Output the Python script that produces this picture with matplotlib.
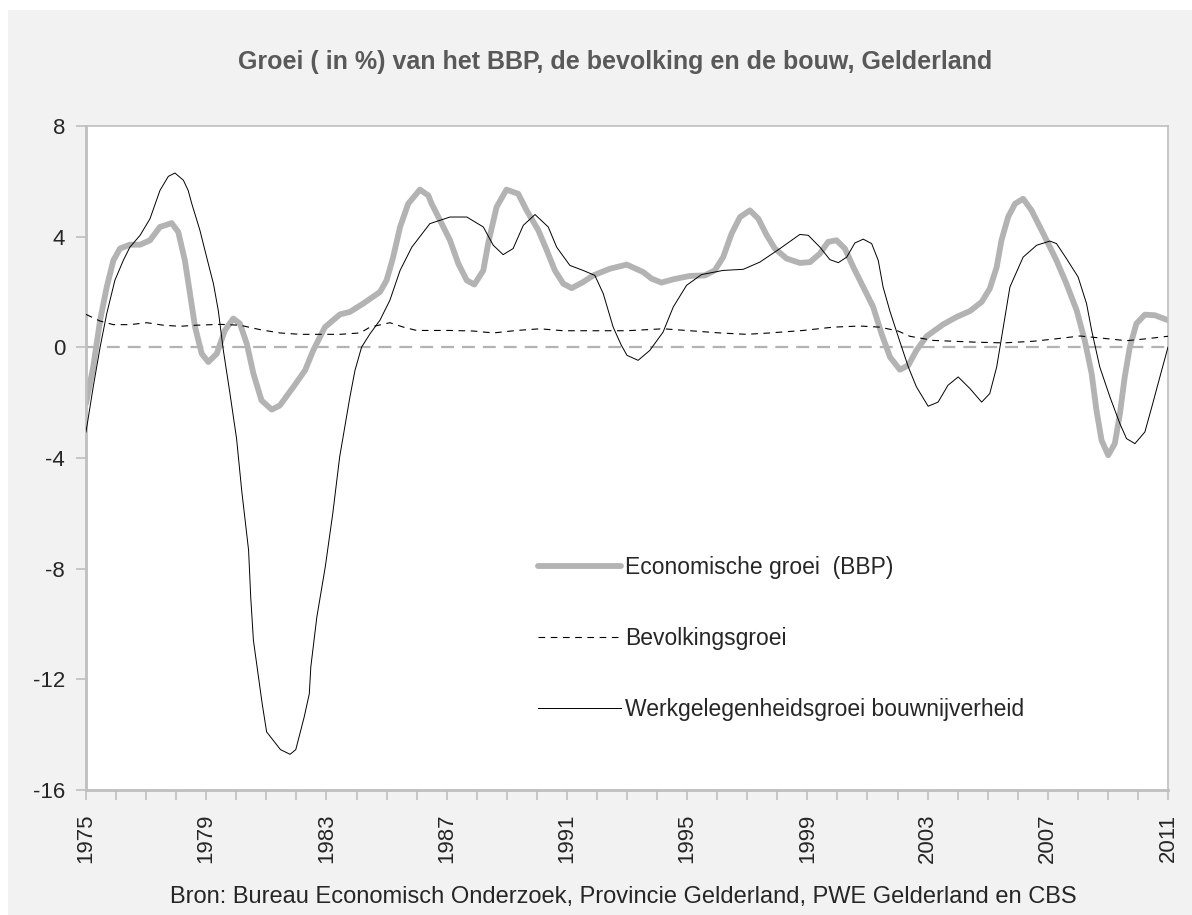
import matplotlib
matplotlib.use("Agg")
import matplotlib.pyplot as plt
from matplotlib.patches import Rectangle

plt.rcParams['font.family'] = ['Liberation Sans', 'DejaVu Sans']

# ---------------- data ----------------
bbp_years = [1975.0, 1975.24, 1975.47, 1975.69, 1975.91, 1976.13, 1976.46, 1976.8, 1977.13, 1977.46,
             1977.85, 1978.07, 1978.29, 1978.46, 1978.63, 1978.85, 1979.07, 1979.35, 1979.62, 1979.9,
             1980.12, 1980.35, 1980.57, 1980.84, 1981.18, 1981.45, 1981.9, 1982.29, 1982.56, 1982.95,
             1983.45, 1983.78, 1984.22, 1984.78, 1985.0, 1985.22, 1985.45, 1985.72, 1986.11, 1986.39,
             1986.5, 1986.78, 1987.11, 1987.39, 1987.67, 1987.92, 1988.22, 1988.38, 1988.66, 1988.99,
             1989.38, 1989.66, 1990.05, 1990.33, 1990.6, 1990.88, 1991.16, 1991.54, 1991.88, 1992.43,
             1992.99, 1993.54, 1993.82, 1994.15, 1994.54, 1995.09, 1995.59, 1995.92, 1996.2, 1996.48,
             1996.76, 1997.09, 1997.37, 1997.65, 1997.92, 1998.31, 1998.75, 1999.09, 1999.42, 1999.69,
             1999.97, 2000.25, 2000.53, 2000.86, 2001.19, 2001.47, 2001.75, 2002.08, 2002.36, 2002.63,
             2002.97, 2003.52, 2003.97, 2004.41, 2004.8, 2005.07, 2005.3, 2005.46, 2005.68, 2005.91,
             2006.18, 2006.46, 2006.85, 2007.29, 2007.62, 2007.96, 2008.23, 2008.46, 2008.62, 2008.79,
             2009.01, 2009.23, 2009.4, 2009.56, 2009.73, 2009.95, 2010.23, 2010.56, 2011.0]
bbp_values = [-2.03, -0.71, 0.98, 2.18, 3.14, 3.57, 3.71, 3.71, 3.87, 4.35,
              4.49, 4.17, 3.14, 1.94, 0.73, -0.23, -0.53, -0.23, 0.61, 1.04,
              0.86, 0.13, -0.95, -1.92, -2.25, -2.10, -1.43, -0.83, -0.11, 0.73,
              1.19, 1.28, 1.58, 2.00, 2.42, 3.26, 4.35, 5.19, 5.70, 5.49,
              5.19, 4.59, 3.87, 3.02, 2.42, 2.27, 2.78, 3.75, 5.07, 5.70,
              5.55, 4.95, 4.23, 3.51, 2.78, 2.30, 2.14, 2.36, 2.60, 2.84,
              2.99, 2.72, 2.48, 2.34, 2.46, 2.58, 2.60, 2.78, 3.26, 4.11,
              4.71, 4.95, 4.65, 4.05, 3.57, 3.21, 3.05, 3.08, 3.39, 3.81,
              3.87, 3.57, 2.90, 2.18, 1.46, 0.49, -0.35, -0.81, -0.65, -0.11,
              0.40, 0.83, 1.10, 1.31, 1.64, 2.12, 2.90, 3.87, 4.71, 5.19,
              5.37, 4.95, 4.11, 3.14, 2.30, 1.34, 0.25, -0.95, -2.28, -3.36,
              -3.90, -3.48, -2.40, -1.07, 0.01, 0.86, 1.18, 1.16, 0.98]

pop_years = [1975.0, 1975.47, 1975.91, 1976.46, 1977.02, 1977.57, 1978.13, 1978.68, 1979.46, 1980.12,
             1980.79, 1981.45, 1982.12, 1982.78, 1983.45, 1984.12, 1984.45, 1985.11, 1985.56, 1986.0,
             1987.11, 1987.88, 1988.55, 1989.33, 1990.1, 1990.88, 1991.99, 1993.0, 1994.2, 1994.98,
             1996.09, 1996.98, 1997.75, 1998.86, 1999.86, 2000.75, 2001.41, 2002.02, 2002.41, 2003.19,
             2004.52, 2005.52, 2006.52, 2007.29, 2008.07, 2008.73, 2009.62, 2010.29, 2011.0]
pop_values = [1.19, 0.95, 0.82, 0.82, 0.89, 0.80, 0.76, 0.80, 0.83, 0.80,
              0.64, 0.52, 0.47, 0.47, 0.47, 0.52, 0.73, 0.89, 0.73, 0.61,
              0.61, 0.59, 0.52, 0.61, 0.67, 0.60, 0.60, 0.60, 0.67, 0.61,
              0.52, 0.47, 0.52, 0.61, 0.73, 0.77, 0.73, 0.59, 0.40, 0.25,
              0.19, 0.16, 0.22, 0.31, 0.41, 0.34, 0.24, 0.31, 0.40]

bouw_years = [1975.0, 1975.24, 1975.47, 1975.69, 1975.96, 1976.24, 1976.46, 1976.8, 1977.13, 1977.46,
              1977.74, 1977.96, 1978.24, 1978.4, 1978.52, 1978.79, 1979.07, 1979.24, 1979.4, 1979.57,
              1979.79, 1980.01, 1980.18, 1980.41, 1980.48, 1980.57, 1980.86, 1981.01, 1981.47, 1981.79,
              1981.98, 1982.26, 1982.43, 1982.48, 1982.68, 1982.96, 1983.21, 1983.44, 1983.78, 1983.95,
              1984.17, 1984.45, 1984.78, 1985.11, 1985.45, 1985.84, 1986.44, 1987.11, 1987.67, 1988.22,
              1988.55, 1988.88, 1989.21, 1989.55, 1989.94, 1990.38, 1990.66, 1991.1, 1991.54, 1991.93,
              1992.21, 1992.54, 1992.8, 1993.0, 1993.37, 1993.76, 1994.2, 1994.54, 1994.98, 1995.48,
              1996.2, 1996.87, 1997.42, 1998.09, 1998.75, 1999.03, 1999.42, 1999.75, 2000.03, 2000.31,
              2000.58, 2000.86, 2001.14, 2001.36, 2001.52, 2001.75, 2002.08, 2002.36, 2002.63, 2003.02,
              2003.35, 2003.68, 2004.02, 2004.41, 2004.8, 2005.07, 2005.3, 2005.5, 2005.74, 2006.18,
              2006.63, 2007.07, 2007.29, 2007.62, 2008.01, 2008.29, 2008.46, 2008.73, 2009.07, 2009.4,
              2009.62, 2009.9, 2010.23, 2010.46, 2010.73, 2011.0]
bouw_values = [-3.06, -1.43, 0.01, 1.22, 2.42, 3.14, 3.62, 4.05, 4.65, 5.67,
               6.18, 6.30, 6.04, 5.67, 5.19, 4.23, 3.02, 2.30, 1.34, -0.11,
               -1.67, -3.30, -5.17, -7.34, -9.02, -10.59, -12.87, -13.90, -14.54, -14.71,
               -14.54, -13.36, -12.52, -11.55, -9.75, -7.94, -6.01, -3.96, -1.80, -0.83,
               0.01, 0.49, 0.98, 1.70, 2.78, 3.62, 4.47, 4.71, 4.71, 4.35,
               3.69, 3.35, 3.57, 4.41, 4.80, 4.35, 3.62, 2.96, 2.78, 2.60,
               1.94, 0.73, 0.10, -0.29, -0.47, -0.11, 0.55, 1.46, 2.24, 2.63,
               2.78, 2.82, 3.08, 3.57, 4.08, 4.05, 3.62, 3.17, 3.06, 3.26,
               3.77, 3.91, 3.75, 3.14, 2.18, 1.30, 0.20, -0.71, -1.43, -2.13,
               -1.98, -1.37, -1.07, -1.49, -1.98, -1.67, -0.71, 0.60, 2.18, 3.26,
               3.69, 3.84, 3.75, 3.21, 2.54, 1.58, 0.61, -0.71, -1.80, -2.76,
               -3.30, -3.48, -3.06, -2.16, -1.07, 0.01]

y_ticks = [8, 4, 0, -4, -8, -12, -16]
x_label_years = [1975, 1979, 1983, 1987, 1991, 1995, 1999, 2003, 2007, 2011]

title = "Groei ( in %) van het BBP, de bevolking en de bouw, Gelderland"
source = "Bron: Bureau Economisch Onderzoek, Provincie Gelderland, PWE Gelderland en CBS"
labels = ["Economische groei  (BBP)", "Bevolkingsgroei", "Werkgelegenheidsgroei bouwnijverheid"]

# ---------------- figure ----------------
W, H = 1192, 915
fig = plt.figure(figsize=(W / 100, H / 100), dpi=100)
fig.patch.set_facecolor('white')
fig.patches.append(Rectangle((8 / W, 0), 1, (H - 10) / H, transform=fig.transFigure,
                             facecolor='#f2f2f2', edgecolor='none', zorder=-10))

ax = fig.add_axes([86 / W, 1 - 790 / H, (1168 - 86) / W, (790 - 126) / H])
ax.set_facecolor('white')

gray = '#b3b3b3'
ax.axhline(0, color=gray, lw=1.6, dashes=(5.8, 3.6), zorder=1)

l1, = ax.plot(bbp_years, bbp_values, color=gray, lw=4.2, solid_joinstyle='round',
              solid_capstyle='round', zorder=2, label=labels[0])
l2, = ax.plot(pop_years, pop_values, color='black', lw=0.8, dashes=(6, 5), zorder=3, label=labels[1])
l3, = ax.plot(bouw_years, bouw_values, color='black', lw=0.7, zorder=4, label=labels[2])

ax.set_xlim(1975, 2011)
ax.set_ylim(-16, 8)
ax.set_yticks(y_ticks)
ax.set_yticklabels([str(v) for v in y_ticks])
ax.set_xticks(range(1975, 2012))
ax.set_xticklabels([str(y) if y in x_label_years else '' for y in range(1975, 2012)], rotation=90)

for s in ['left', 'bottom']:
    ax.spines[s].set_color('#bfbfbf')
    ax.spines[s].set_linewidth(2.0)
for s in ['top', 'right']:
    ax.spines[s].set_color('#bfbfbf')
    ax.spines[s].set_linewidth(1.2)

ax.tick_params(axis='y', length=7, width=1.2, color='#bfbfbf', labelsize=16, labelcolor='#262626', pad=8)
ax.tick_params(axis='x', length=7, width=1.2, color='#bfbfbf', labelsize=16, labelcolor='#262626', pad=10)

fig.text(615 / W, 1 - 62 / H, title, ha='center', va='center', fontsize=18,
         fontweight='bold', color='#595959')
fig.text(623 / W, 1 - 897 / H, source, ha='center', va='center', fontsize=17, color='#262626')

leg = ax.legend(handles=[l1, l2, l3], loc='upper left',
                bbox_to_anchor=((538 - 86) / (1168 - 86), (790 - 556) / (790 - 126)),
                frameon=False, fontsize=16.5, handlelength=3.6, handletextpad=0.2,
                labelspacing=2.1, borderaxespad=0, borderpad=0)
for t in leg.get_texts():
    t.set_color('#262626')

fig.savefig('out.png', dpi=100, facecolor=fig.get_facecolor())
